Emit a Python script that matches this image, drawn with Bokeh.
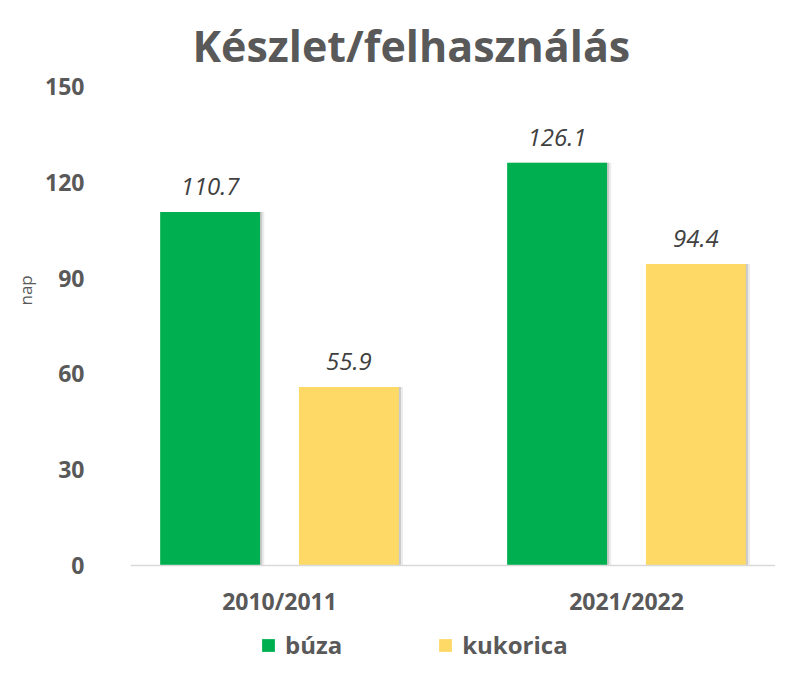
import math
from bokeh.plotting import figure
from bokeh.models import (ColumnDataSource, FactorRange, Legend, LegendItem, Title,
                          LabelSet, FixedTicker)
from bokeh.transform import dodge
from bokeh.core.properties import value
from bokeh.embed import file_html
from bokeh.resources import INLINE

# ---- data ----
years = ["2010/2011", "2021/2022"]
buza = [110.7, 126.1]
kukorica = [55.9, 94.4]
series_names = ["búza", "kukorica"]
y_ticks = [0, 30, 60, 90, 120, 150]
title_text = "Készlet/felhasználás"
y_label = "nap"

GREEN = "#00B050"
YELLOW = "#FFD966"
GRAY = "#595959"
FONT = "Open Sans"

src = ColumnDataSource(dict(
    year=years, buza=buza, kukorica=kukorica,
    buza_lbl=[f"{v:.1f}" for v in buza],
    kuk_lbl=[f"{v:.1f}" for v in kukorica],
))

p = figure(x_range=FactorRange(*years, range_padding=-0.0705, range_padding_units="absolute"),
           y_range=(-30.4, 150), width=775, height=662,
           output_backend="svg", toolbar_location=None,
           min_border_left=130, min_border_right=0, min_border_top=86, min_border_bottom=0)

p.title.text = title_text
p.title.text_font = FONT
p.title.text_font_size = "43px"
p.title.text_font_style = "bold"
p.title.text_color = GRAY
p.title.align = "left"
p.title.offset = 62
p.title.vertical_align = "bottom"
p.title.standoff = 23

p.outline_line_color = None
p.xgrid.grid_line_color = None
p.ygrid.grid_line_color = None
p.background_fill_color = "white"
p.border_fill_color = "white"

OFF = 0.2
W = 0.288

# soft shadows on the right side of the bars
for s, a in ((0.006, 0.30), (0.012, 0.15)):
    p.vbar(x=dodge("year", -OFF + s, range=p.x_range), top="buza", width=W, source=src,
           fill_color="#7f7f7f", fill_alpha=a, line_color=None)
    p.vbar(x=dodge("year", OFF + s, range=p.x_range), top="kukorica", width=W, source=src,
           fill_color="#7f7f7f", fill_alpha=a, line_color=None)

r1 = p.vbar(x=dodge("year", -OFF, range=p.x_range), top="buza", width=W, source=src,
            fill_color=GREEN, line_color=None)
r2 = p.vbar(x=dodge("year", OFF, range=p.x_range), top="kukorica", width=W, source=src,
            fill_color=YELLOW, line_color=None)

for xoff, col, lbl in ((-OFF, "buza", "buza_lbl"), (OFF, "kukorica", "kuk_lbl")):
    ls = LabelSet(x=dodge("year", xoff, range=p.x_range), y=col, text=lbl, source=src,
                  text_align="center", text_baseline="alphabetic", y_offset=17,
                  text_font=value(FONT), text_font_size="24px", text_font_style="italic",
                  text_color="#404040")
    p.add_layout(ls)

# axes
p.yaxis.ticker = FixedTicker(ticks=y_ticks)
p.yaxis.axis_line_color = None
p.yaxis.major_tick_line_color = None
p.yaxis.minor_tick_line_color = None
p.yaxis.major_label_standoff = 40
p.yaxis.major_label_text_font = FONT
p.yaxis.major_label_text_font_size = "23px"
p.yaxis.major_label_text_font_style = "bold"
p.yaxis.major_label_text_color = GRAY

p.xaxis.fixed_location = 0
p.xaxis.axis_line_color = "#d9d9d9"
p.xaxis.axis_line_width = 1.5
p.xaxis.major_tick_line_color = None
p.xaxis.minor_tick_line_color = None
p.xaxis.major_label_standoff = 14
p.xaxis.major_label_text_font = FONT
p.xaxis.major_label_text_font_size = "23px"
p.xaxis.major_label_text_font_style = "bold"
p.xaxis.major_label_text_color = GRAY

ytitle = Title(text=y_label, align="left", offset=357, standoff=12,
               text_font=FONT, text_font_size="17px", text_font_style="normal",
               text_color=GRAY)
p.add_layout(ytitle, "left")

legend = Legend(items=[LegendItem(label=series_names[0], renderers=[r1]),
                       LegendItem(label=series_names[1], renderers=[r2])],
                orientation="horizontal", location=(130, 1),
                glyph_width=16, glyph_height=16, label_standoff=9, spacing=95,
                padding=0, margin=0, border_line_color=None, background_fill_alpha=0,
                label_text_font=FONT, label_text_font_size="24px",
                label_text_font_style="bold", label_text_color=GRAY)
p.add_layout(legend, "center")

open("out.html", "w").write(file_html(p, INLINE))
